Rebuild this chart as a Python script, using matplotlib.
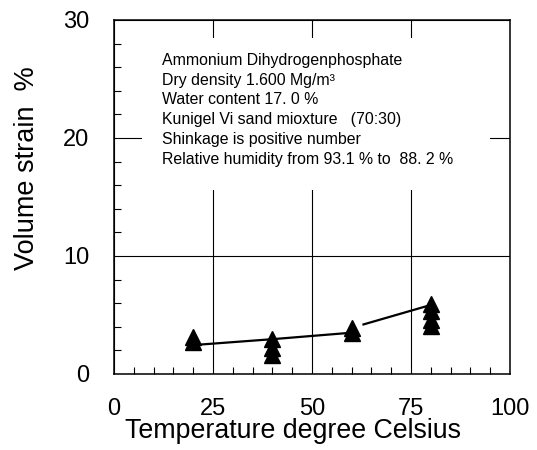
import matplotlib
matplotlib.use("Agg")
import matplotlib.pyplot as plt
from matplotlib.patches import Rectangle
from matplotlib.ticker import MultipleLocator

plt.rcParams['font.family'] = ['Liberation Sans', 'DejaVu Sans']

# measured volume strain (triangles)
temp_pts = [20, 20, 40, 40, 40, 60, 60, 80, 80, 80, 80]
strain_pts = [3.1, 2.7, 3.0, 2.2, 1.6, 3.9, 3.5, 5.9, 5.3, 4.6, 4.1]

# trend line, drawn in two pieces
line1_t = [20, 40, 60]
line1_s = [2.45, 2.95, 3.5]
line2_t = [63, 80]
line2_s = [4.2, 5.85]

note_lines = [
    "Ammonium Dihydrogenphosphate",
    "Dry density 1.600 Mg/m³",
    "Water content 17. 0 %",
    "Kunigel Vi sand mioxture   (70:30)",
    "Shinkage is positive number",
    "Relative humidity from 93.1 % to  88. 2 %",
]

fig = plt.figure(figsize=(5.37, 4.5), dpi=100)
ax = fig.add_axes([0.2123, 0.1689, 0.7374, 0.7867])

ax.set_xlim(0, 100)
ax.set_ylim(0, 30)
ax.xaxis.set_major_locator(MultipleLocator(25))
ax.xaxis.set_minor_locator(MultipleLocator(5))
ax.yaxis.set_major_locator(MultipleLocator(10))
ax.yaxis.set_minor_locator(MultipleLocator(2))
ax.tick_params(which='both', direction='in', top=False, right=False, width=0.8)
ax.tick_params(which='major', length=0, labelsize=17)
ax.tick_params(which='minor', length=5)
ax.tick_params(axis='x', pad=17)
ax.tick_params(axis='y', pad=18)
for sp in ax.spines.values():
    sp.set_linewidth(1.1)

ax.set_axisbelow(True)
ax.grid(True, which='major', color='black', linewidth=0.8)

# white panel behind the notes hides the grid there
ax.add_patch(Rectangle((7.1, 15.6), 87.9, 12.9, facecolor='white',
                       edgecolor='none', zorder=1))
for i, s in enumerate(note_lines):
    ax.text(12, 26.2 - i * 1.68, s, fontsize=11.4, zorder=2, va='baseline')

ax.plot(line1_t, line1_s, color='black', linewidth=1.6, zorder=3)
ax.plot(line2_t, line2_s, color='black', linewidth=1.6, zorder=3)
ax.plot(temp_pts, strain_pts, linestyle='none', marker='^', markersize=12,
        color='black', zorder=4)

ax.set_xlabel('Temperature degree Celsius', fontsize=19.3)
ax.set_ylabel('Volume strain  %', fontsize=19.5)
ax.xaxis.set_label_coords(0.452, -0.124)
ax.yaxis.set_label_coords(-0.186, 0.582)

fig.savefig('out.png', dpi=100)
